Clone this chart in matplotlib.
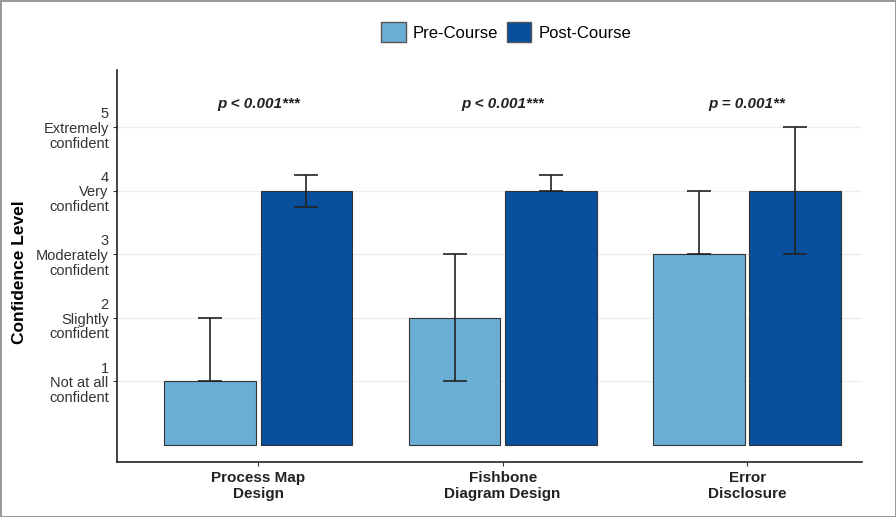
import matplotlib
matplotlib.use("Agg")
import matplotlib.pyplot as plt
import numpy as np
from matplotlib.patches import Patch

plt.rcParams['font.family'] = ['Liberation Sans', 'DejaVu Sans']

categories = ["Process Map\nDesign", "Fishbone\nDiagram Design", "Error\nDisclosure"]
pre_values = [1, 2, 3]
post_values = [4, 4, 4]
pre_low = [1, 1, 3]
pre_high = [2, 3, 4]
post_low = [3.75, 4, 3]
post_high = [4.25, 4.25, 5]
p_labels = ["p < 0.001***", "p < 0.001***", "p = 0.001**"]
ytick_values = [1, 2, 3, 4, 5]
ytick_labels = ["1\nNot at all\nconfident", "2\nSlightly\nconfident", "3\nModerately\nconfident",
                "4\nVery\nconfident", "5\nExtremely\nconfident"]

pre_color = "#6aaed6"
post_color = "#08509e"

fig = plt.figure(figsize=(8.96, 5.17), dpi=100)
fig.patch.set_edgecolor("#9a9a9a")
fig.patch.set_linewidth(2)
ax = fig.add_axes([0.1306, 0.1064, 0.8314, 0.7582])

x = np.arange(len(categories))
w = 0.375
off = 0.197

ax.bar(x - off, pre_values, width=w, color=pre_color, edgecolor="#333333", linewidth=0.8, zorder=2)
ax.bar(x + off, post_values, width=w, color=post_color, edgecolor="#333333", linewidth=0.8, zorder=2)

pre_err = [np.array(pre_values) - np.array(pre_low), np.array(pre_high) - np.array(pre_values)]
post_err = [np.array(post_values) - np.array(post_low), np.array(post_high) - np.array(post_values)]
ax.errorbar(x - off, pre_values, yerr=pre_err, fmt="none", ecolor="#222222", elinewidth=1.2,
            capsize=8.6, capthick=1.2, zorder=3)
ax.errorbar(x + off, post_values, yerr=post_err, fmt="none", ecolor="#222222", elinewidth=1.2,
            capsize=8.6, capthick=1.2, zorder=3)

for xi, lab in zip(x, p_labels):
    ax.text(xi, 5.37, lab, ha="center", va="center", fontsize=11, fontweight="bold", style="italic",
            color="#222222")

ax.set_xlim(-0.578, 2.47)
ax.set_ylim(-0.27, 5.9)
ax.set_yticks(ytick_values)
ax.set_yticklabels(ytick_labels, fontsize=10.5, color="#333333", linespacing=1.05)
ax.set_xticks(x)
ax.set_xticklabels(categories, fontsize=11, fontweight="bold", color="#222222", linespacing=1.2)
ax.yaxis.grid(True, color="#eeeeee", linewidth=1, zorder=0)
ax.set_axisbelow(True)
for s in ["top", "right"]:
    ax.spines[s].set_visible(False)
for s in ["left", "bottom"]:
    ax.spines[s].set_color("#222222")
    ax.spines[s].set_linewidth(1.2)
ax.tick_params(axis="both", length=3, color="#333333")
ax.tick_params(axis="y", pad=3)
ax.set_ylabel("Confidence Level", fontsize=12.5, fontweight="bold")
ax.yaxis.set_label_coords((27 - 117) / 745.0, 0.485)

handles = [Patch(facecolor=pre_color, edgecolor="#555555", label="Pre-Course"),
           Patch(facecolor=post_color, edgecolor="#555555", label="Post-Course")]
fig.legend(handles=handles, loc="center", bbox_to_anchor=(0.565, 0.938), ncol=2, frameon=False,
           fontsize=12, handlelength=1.45, handleheight=1.45, handletextpad=0.45, columnspacing=0.5)

fig.savefig("out.png", dpi=100)
